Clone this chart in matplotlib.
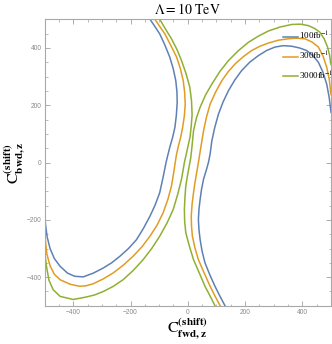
import matplotlib
matplotlib.use("Agg")
import matplotlib.pyplot as plt

plt.rcParams['font.family'] = ['Liberation Serif', 'DejaVu Serif']
plt.rcParams['mathtext.fontset'] = 'stix'

# contour branches (x = C_fwd, y = C_bwd)
# "left" branch runs from the top edge to the left edge,
# "right" branch runs from the bottom edge to the right edge
blue_left_x = [-132, -115, -98, -80, -63, -51, -42, -38, -37, -40, -45, -53, -63, -70, -76, -86, -98, -114,
               -132, -155, -179, -207, -237, -266, -295, -330, -365, -395, -420, -446, -466, -481, -491, -497, -500]
blue_left_y = [500, 475, 449, 410, 368, 328, 286, 248, 210, 165, 123, 88, 53, 25, 0, -50, -105, -148,
               -187, -230, -269, -300, -327, -350, -368, -386, -399, -397, -386, -362, -335, -300, -260, -215, -160]
blue_right_x = [130, 112, 95, 77, 60, 50, 43, 39, 37, 39, 43, 48, 55, 65, 72, 78, 84, 94, 107, 123, 142,
                164, 188, 216, 246, 275, 304, 333, 363, 390, 415, 437, 456, 472, 485, 494, 500]
blue_right_y = [-500, -466, -432, -392, -350, -310, -269, -234, -199, -163, -129, -93, -58, -25, 0, 30, 76,
                122, 169, 211, 251, 288, 321, 350, 373, 391, 403, 408, 406, 400, 391, 373, 350, 315, 274, 225, 175]

orange_left_x = [-115, -98, -80, -60, -39, -26, -16, -11, -9, -12, -18, -25, -34, -40, -44, -50, -57, -70,
                 -86, -107, -132, -160, -191, -225, -260, -295, -330, -355, -377, -410, -446, -466, -481,
                 -492, -497, -500]
orange_left_y = [500, 475, 449, 410, 368, 328, 286, 245, 204, 163, 123, 88, 53, 25, 0, -40, -82, -130,
                 -175, -218, -257, -294, -327, -358, -385, -406, -423, -430, -432, -425, -409, -390, -360,
                 -320, -275, -218]
orange_right_x = [113, 95, 78, 57, 37, 25, 16, 13, 12, 15, 20, 25, 31, 37, 45, 55, 65, 78, 97, 119, 141,
                  165, 193, 223, 252, 281, 316, 351, 380, 409, 435, 456, 472, 485, 494, 500]
orange_right_y = [-500, -466, -432, -385, -339, -298, -257, -222, -187, -145, -105, -70, -35, 0, 50, 111,
                  158, 204, 246, 286, 317, 344, 369, 391, 406, 417, 427, 432, 434, 432, 420, 403, 372, 333,
                  290, 237]

green_left_x = [-98, -78, -57, -38, -22, -6, 7, 13, 15, 12, 8, -3, -12, -17, -22, -35, -51, -73, -98, -126,
                -156, -190, -226, -260, -295, -325, -353, -400, -446, -470, -485, -493, -500]
green_left_y = [500, 466, 432, 395, 356, 310, 263, 215, 167, 128, 90, 40, 0, -30, -58, -110, -164, -212,
                -257, -300, -339, -376, -409, -432, -450, -462, -469, -478, -467, -444, -410, -365, -312]
green_right_x = [95, 78, 60, 40, 20, 5, -7, -11, -12, -10, -7, -1, 5, 10, 14, 20, 30, 43, 62, 84, 112,
                 142, 176, 212, 246, 281, 322, 363, 393, 421, 443, 461, 476, 488, 495, 500]
green_right_y = [-500, -466, -432, -385, -339, -290, -245, -205, -164, -122, -82, -45, -12, 15, 50, 111,
                 155, 193, 236, 274, 318, 356, 390, 420, 441, 459, 473, 482, 483, 478, 468, 455, 432, 403,
                 375, 342]

labels = [r'100fb$^{-1}$', r'300fb$^{-1}$', r'3000fb$^{-1}$']
colors = ['#5E81B5', '#E19C24', '#8FB032']

curves = [
    (blue_left_x, blue_left_y, blue_right_x, blue_right_y),
    (orange_left_x, orange_left_y, orange_right_x, orange_right_y),
    (green_left_x, green_left_y, green_right_x, green_right_y),
]

fig = plt.figure(figsize=(3.32, 3.44), dpi=100)
ax = fig.add_axes([44.6 / 332, 1 - 305.8 / 344, 286.4 / 332, 286.5 / 344])

for (lx, ly, rx, ry), c, lab in zip(curves, colors, labels):
    ax.plot(lx, ly, color=c, lw=1.1, label=lab)
    ax.plot(rx, ry, color=c, lw=1.1)

ax.set_xlim(-500, 500)
ax.set_ylim(-500, 500)
ax.set_xticks([-400, -200, 0, 200, 400])
ax.set_yticks([-400, -200, 0, 200, 400])
ax.set_xticks(range(-500, 501, 50), minor=True)
ax.set_yticks(range(-500, 501, 50), minor=True)
ax.tick_params(which='both', direction='in', top=True, right=True,
               color='#a0a0a0', labelcolor='#8a8a8a', labelsize=4.8, pad=2)
ax.tick_params(which='major', length=3.5, width=0.6)
ax.tick_params(which='minor', length=1.8, width=0.5)
for lbl in ax.get_xticklabels() + ax.get_yticklabels():
    lbl.set_family('Liberation Sans')
for s in ax.spines.values():
    s.set_color('#a8a8a8')
    s.set_linewidth(0.8)

ax.set_title(r'$\Lambda = 10\ \mathrm{TeV}$', fontsize=10, pad=4)
ax.set_xlabel(r'$\mathrm{C}^{\mathbf{(shift)}}_{\mathbf{fwd,z}}$', fontsize=11.5, labelpad=0)
ax.set_ylabel(r'$\mathrm{C}^{\mathbf{(shift)}}_{\mathbf{bwd,z}}$', fontsize=11.5, labelpad=0)

ax.legend(loc='upper left', bbox_to_anchor=(0.833, 0.962), frameon=False,
          fontsize=6.5, borderpad=0, borderaxespad=0, handlelength=1.6,
          handletextpad=0.15, labelspacing=0.85)

fig.savefig('out.png', dpi=100)
